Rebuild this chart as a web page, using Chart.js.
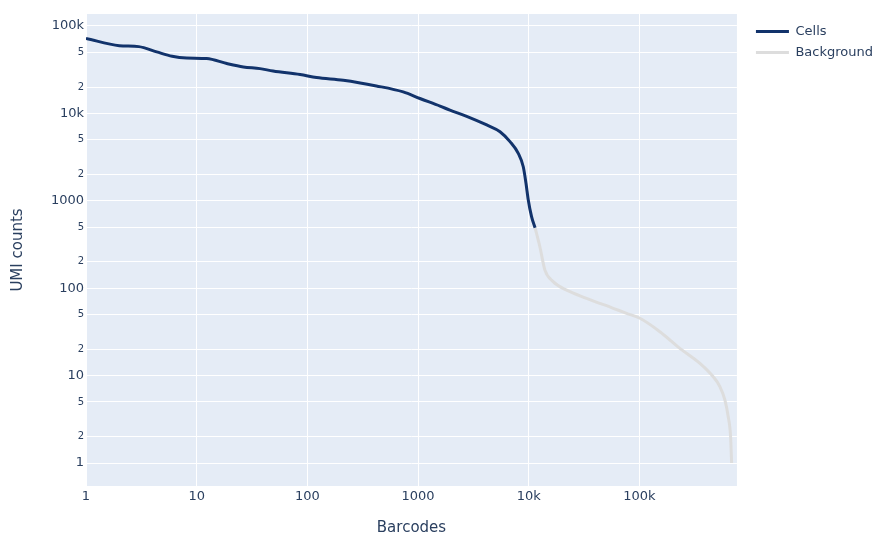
<!DOCTYPE html>
<html>
<head>
<meta charset="utf-8">
<script src="https://cdn.jsdelivr.net/npm/chart.js@4.4.1/dist/chart.umd.min.js"></script>
<style>
  html, body { margin: 0; padding: 0; background: #fff; }
</style>
</head>
<body>
<canvas id="kneeChart" width="885" height="552"></canvas>
<script>
// barcode rank vs UMI counts
const cellBarcodes = [1, 2, 3, 4.35, 6, 8.1, 12.3, 18.7, 26.4, 37.3, 49, 86, 121, 211, 420, 734, 1040, 1580, 1940, 2750, 4170, 5500, 6770, 8040, 8920, 9440, 9900, 10600, 11400];
const cellCounts = [72000, 59500, 58000, 50500, 45000, 43000, 42400, 37200, 34000, 32500, 30500, 27800, 25700, 23900, 20600, 17600, 14800, 12100, 10900, 9250, 7370, 6170, 4750, 3490, 2450, 1590, 1020, 658, 492];

const bgBarcodes = [11400, 12600, 14000, 16600, 22000, 33300, 58000, 76500, 101000, 153000, 232000, 352000, 464000, 533000, 592000, 634000, 666000, 680000];
const bgCounts = [492, 298, 161, 119, 95, 76.6, 58.9, 51.6, 45.3, 31.8, 20.5, 13.8, 9.7, 7.5, 5.26, 3.39, 2.0, 1];

const xTicks = [1, 10, 100, 1000, 10000, 100000];
const xTickLabels = ['1', '10', '100', '1000', '10k', '100k'];
const yTicks = [1, 2, 5, 10, 20, 50, 100, 200, 500, 1000, 2000, 5000, 10000, 20000, 50000, 100000];
const yTickLabels = ['1', '2', '5', '10', '2', '5', '100', '2', '5', '1000', '2', '5', '10k', '2', '5', '100k'];

const textColor = '#2a3f5f';
const fontFamily = '"DejaVu Sans", Verdana, sans-serif';

function toPoints(xs, ys) {
    return xs.map((x, i) => ({ x: x, y: ys[i] }));
}

function isMajor(v) {
    return Math.abs(Math.log10(v) - Math.round(Math.log10(v))) < 1e-9;
}

const plotBackground = {
    id: 'plotBackground',
    beforeDraw(chart) {
        const { ctx, chartArea } = chart;
        ctx.save();
        ctx.fillStyle = '#e5ecf6';
        ctx.fillRect(chartArea.left, chartArea.top, chartArea.right - chartArea.left, chartArea.bottom - chartArea.top);
        ctx.restore();
    }
};

// nudge the legend a little to the right / down, like plotly does
const legendNudge = {
    id: 'legendNudge',
    afterLayout(chart) {
        const lg = chart.legend;
        lg.left += 11;
        lg.right += 11;
        lg.top += 3;
        lg.bottom += 3;
    }
};

const ctx = document.getElementById('kneeChart').getContext('2d');

const kneeChart = new Chart(ctx, {
    type: 'line',
    data: {
        datasets: [
            {
                label: 'Cells',
                data: toPoints(cellBarcodes, cellCounts),
                borderColor: '#12336b',
                backgroundColor: '#12336b',
                borderWidth: 3,
                pointRadius: 0,
                cubicInterpolationMode: 'monotone'
            },
            {
                label: 'Background',
                data: toPoints(bgBarcodes, bgCounts),
                borderColor: '#dddddd',
                backgroundColor: '#dddddd',
                borderWidth: 3,
                pointRadius: 0,
                cubicInterpolationMode: 'monotone'
            }
        ]
    },
    options: {
        responsive: false,
        animation: false,
        layout: {
            padding: { top: 14, right: 13, bottom: 0, left: 0 }
        },
        plugins: {
            legend: {
                position: 'right',
                align: 'start',
                labels: {
                    boxWidth: 33,
                    boxHeight: 3,
                    padding: 8,
                    color: textColor,
                    font: { family: fontFamily, size: 13 },
                    generateLabels(chart) {
                        return chart.data.datasets.map((ds, i) => ({
                            text: ds.label,
                            fillStyle: ds.borderColor,
                            strokeStyle: ds.borderColor,
                            lineWidth: 0,
                            fontColor: textColor,
                            datasetIndex: i,
                            hidden: false
                        }));
                    }
                }
            },
            tooltip: { enabled: false }
        },
        scales: {
            x: {
                type: 'logarithmic',
                min: 1,
                max: 760000,
                afterBuildTicks(scale) {
                    scale.ticks = xTicks.map(v => ({ value: v }));
                },
                afterFit(scale) {
                    scale.height = 66;
                },
                ticks: {
                    autoSkip: false,
                    maxRotation: 0,
                    padding: 3,
                    color: textColor,
                    font: { family: fontFamily, size: 13 },
                    callback(value) {
                        return xTickLabels[xTicks.indexOf(value)];
                    }
                },
                grid: { color: '#ffffff', lineWidth: 1, drawTicks: false },
                border: { display: false },
                title: {
                    display: true,
                    text: 'Barcodes',
                    color: textColor,
                    font: { family: fontFamily, size: 15 },
                    padding: { top: 0, bottom: 15 }
                }
            },
            y: {
                type: 'logarithmic',
                min: 0.546,
                max: 137000,
                afterBuildTicks(scale) {
                    scale.ticks = yTicks.map(v => ({ value: v }));
                },
                afterFit(scale) {
                    scale.width = 86;
                },
                ticks: {
                    autoSkip: false,
                    padding: 2,
                    color: textColor,
                    font(c) {
                        const major = c.tick && isMajor(c.tick.value);
                        return { family: fontFamily, size: major ? 13 : 10 };
                    },
                    callback(value) {
                        return yTickLabels[yTicks.indexOf(value)];
                    }
                },
                grid: { color: '#ffffff', lineWidth: 1, drawTicks: false },
                border: { display: false },
                title: {
                    display: true,
                    text: 'UMI counts',
                    color: textColor,
                    font: { family: fontFamily, size: 15 },
                    padding: { top: 9, bottom: 0 }
                }
            }
        }
    },
    plugins: [plotBackground, legendNudge]
});
</script>
</body>
</html>
